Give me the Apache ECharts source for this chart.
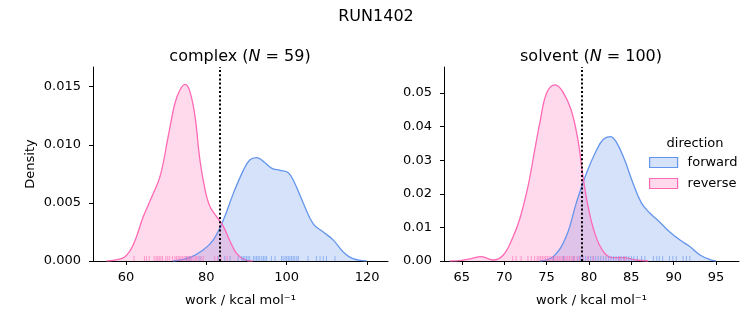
<!DOCTYPE html>
<html><head><meta charset="utf-8">
<script src="https://cdn.jsdelivr.net/npm/echarts@6/dist/echarts.min.js"></script>
<style>html,body{margin:0;padding:0;background:#fff}#c{width:753px;height:325px}</style>
</head><body><div id="c"></div>
<script>
// ---------- data ----------
const suptitle = 'RUN1402';
const complexN = 59;
const solventN = 100;
const directions = ['forward', 'reverse'];

const complexForwardKde = [[71.7,0],[75.9,0.0003],[79.2,0.00095],[81.7,0.0018],[84.2,0.0035],[86.7,0.0058],[89.2,0.0078],[90.8,0.0087],[92.5,0.0089],[94.1,0.0086],[96.2,0.0080],[98.3,0.0078],[100.4,0.0076],[102.0,0.0067],[104.1,0.0050],[106.6,0.0032],[109.1,0.0025],[111.6,0.0018],[114.0,0.0008],[116.5,0.0002],[119.9,0]];
const complexReverseKde = [[55.2,0],[57.5,0.0001],[59.75,0.00037],[61.8,0.00138],[64.3,0.0038],[66.4,0.0055],[68.5,0.0073],[70.5,0.0107],[72.2,0.0136],[73.4,0.0147],[74.7,0.0152],[75.9,0.0146],[77.2,0.0124],[78.4,0.0087],[79.7,0.0061],[80.9,0.0047],[82.6,0.0038],[84.2,0.0030],[85.9,0.0017],[87.5,0.00066],[89.6,0.0001],[91.5,0]];
const solventForwardKde = [[74.2,0],[75.8,0.0013],[77.3,0.0072],[78.5,0.0172],[79.7,0.0261],[80.9,0.0330],[81.7,0.0362],[82.5,0.0370],[83.2,0.0355],[84.2,0.0301],[85.2,0.0231],[86.2,0.0172],[87.2,0.0142],[88.3,0.0117],[89.5,0.0087],[90.7,0.0063],[91.9,0.0043],[93.1,0.0018],[94.2,0.0005],[95.0,0]];
const solventReverseKde = [[63.6,0],[65.0,0.0002],[65.9,0.0006],[67.3,0.0013],[68.7,0.0003],[69.9,0.0018],[70.9,0.0063],[71.8,0.0122],[72.8,0.0221],[73.6,0.0330],[74.2,0.0410],[75.0,0.0499],[76.0,0.0524],[76.9,0.0504],[77.9,0.0449],[78.7,0.0360],[79.3,0.0251],[79.9,0.0162],[80.7,0.0082],[81.7,0.0028],[82.8,0.0010],[84.0,0.0010],[85.6,0.0003],[87.0,0]];

const complexForwardRug = [75.1,75.9,78.4,83.0,84.6,85.9,87.9,88.8,89.2,89.6,90.0,90.4,90.8,91.7,92.1,92.5,92.9,93.3,93.8,94.2,94.6,95.0,96.2,97.1,98.7,99.1,99.6,100.0,100.4,100.8,101.2,101.6,102.0,102.5,102.9,105.3,107.4,108.3,109.1,109.9,112.0];
const complexReverseRug = [62.0,64.6,65.1,65.8,67.0,67.5,67.9,68.3,68.7,69.1,69.9,70.4,70.9,71.6,72.2,72.6,73.0,73.4,73.7,74.1,74.5,74.9,75.3,75.6,75.9,76.3,76.7,77.2,77.6,78.0,78.7,79.2,82.1,82.8,83.6,85.2];
const solventForwardRug = [75.8,77.0,78.2,78.7,79.0,79.3,79.6,79.9,80.2,80.5,80.8,81.1,81.4,81.7,82.0,82.3,82.6,82.9,83.2,83.5,83.8,84.1,84.4,84.7,85.0,85.3,85.7,86.2,86.6,87.6,88.0,88.3,88.7,89.5,89.9,90.3,91.1,91.5,91.9];
const solventReverseRug = [71.0,71.4,72.0,72.8,73.2,73.6,73.9,74.1,74.3,74.5,74.7,74.9,75.1,75.3,75.5,75.7,75.9,76.1,76.3,76.5,76.7,76.9,77.1,77.3,77.5,77.7,77.9,78.1,78.3,78.6,78.9,79.3,79.9,80.5,83.6,84.2];

const complexCutoff = 83.4;
const solventCutoff = 79.15;

const complexXTicks = [60, 80, 100, 120];
const complexYTicks = [0, 0.005, 0.010, 0.015];
const solventXTicks = [65, 70, 75, 80, 85, 90, 95];
const solventYTicks = [0, 0.01, 0.02, 0.03, 0.04, 0.05];

// ---------- styling ----------
const FONT = 'DejaVu Sans';
const BLUE = '#6495ED', PINK = '#FF69B4';
const BLUE_FILL = 'rgba(100,149,237,0.27)', PINK_FILL = 'rgba(255,105,180,0.25)';
const TXT = '#000';

function xAxisCfg(gridIndex, min, max, ticks) {
  return {
    type: 'value', gridIndex, min, max,
    name: 'work / kcal mol⁻¹', nameLocation: 'middle', nameGap: 33,
    nameTextStyle: {fontFamily: FONT, fontSize: 13, color: TXT},
    axisLine: {show: true, onZero: false, lineStyle: {color: '#000', width: 1}},
    axisTick: {show: true, inside: false, length: 4, lineStyle: {color: '#000', width: 1}, customValues: ticks},
    axisLabel: {fontFamily: FONT, fontSize: 13, color: TXT, margin: 10, customValues: ticks, formatter: v => String(v)},
    splitLine: {show: false}
  };
}
function yAxisCfg(gridIndex, max, ticks, digits, name) {
  return {
    type: 'value', gridIndex, min: 0, max,
    name: name, nameLocation: 'middle', nameGap: 56,
    nameTextStyle: {fontFamily: FONT, fontSize: 13, color: TXT},
    axisLine: {show: true, onZero: false, lineStyle: {color: '#000', width: 1}},
    axisTick: {show: true, inside: false, length: 4, lineStyle: {color: '#000', width: 1}, customValues: ticks},
    axisLabel: {fontFamily: FONT, fontSize: 13, color: TXT, margin: 12, customValues: ticks, formatter: v => v.toFixed(digits)},
    splitLine: {show: false}
  };
}
function kde(name, data, idx, line, fill) {
  return {
    name, type: 'line', xAxisIndex: idx, yAxisIndex: idx, data,
    smooth: 0.4, showSymbol: false, symbol: 'none',
    lineStyle: {color: line, width: 1.3}, itemStyle: {color: line},
    areaStyle: {color: fill, opacity: 1}, z: 2, silent: true
  };
}
function rug(name, vals, idx, color) {
  return {
    name, type: 'scatter', xAxisIndex: idx, yAxisIndex: idx,
    data: vals.map(v => [v, 0]), symbol: 'rect', symbolSize: [1, 5], symbolOffset: [0, -2.5],
    itemStyle: {color, opacity: 0.6}, z: 3, silent: true, clip: false
  };
}
function cutoff(idx, x) {
  return {
    name: 'cutoff' + idx, type: 'line', xAxisIndex: idx, yAxisIndex: idx, data: [],
    markLine: {silent: true, symbol: 'none', label: {show: false},
      lineStyle: {color: '#000', type: [2, 2.2], width: 2}, data: [{xAxis: x}]},
    z: 5
  };
}

const chart = echarts.init(document.getElementById('c'), null, {renderer: 'canvas'});
chart.setOption({
  animation: false,
  backgroundColor: '#fff',
  textStyle: {fontFamily: FONT},
  title: [
    {text: suptitle, left: 371, top: 4, textAlign: 'center', textStyle: {fontFamily: FONT, fontSize: 16, fontWeight: 'normal', color: TXT}},
    {text: 'complex ({i|N} = ' + complexN + ')', left: 235, top: 44, textAlign: 'center',
     textStyle: {fontFamily: FONT, fontSize: 16, fontWeight: 'normal', color: TXT,
       rich: {i: {fontFamily: FONT, fontSize: 16, fontStyle: 'italic', color: TXT}}}},
    {text: 'solvent ({i|N} = ' + solventN + ')', left: 586, top: 44, textAlign: 'center',
     textStyle: {fontFamily: FONT, fontSize: 16, fontWeight: 'normal', color: TXT,
       rich: {i: {fontFamily: FONT, fontSize: 16, fontStyle: 'italic', color: TXT}}}},
    {text: 'direction', left: 690, top: 132, textAlign: 'center', textStyle: {fontFamily: FONT, fontSize: 13, fontWeight: 'normal', color: TXT}}
  ],
  legend: {
    orient: 'vertical', left: 644, top: 151, itemWidth: 28, itemHeight: 10, itemGap: 8,
    icon: 'rect', selectedMode: false,
    textStyle: {fontFamily: FONT, fontSize: 13, color: TXT, padding: [0, 0, 0, 5]},
    data: [
      {name: 'forward', itemStyle: {color: BLUE_FILL, borderColor: BLUE, borderWidth: 1.2}},
      {name: 'reverse', itemStyle: {color: PINK_FILL, borderColor: PINK, borderWidth: 1.2}}
    ]
  },
  grid: [
    {left: 93, top: 67, width: 295, height: 194, containLabel: false},
    {left: 444, top: 67, width: 295, height: 194, containLabel: false}
  ],
  xAxis: [xAxisCfg(0, 51.8, 125.2, complexXTicks), xAxisCfg(1, 62.9, 97.7, solventXTicks)],
  yAxis: [yAxisCfg(0, 0.0167, complexYTicks, 3, 'Density'), yAxisCfg(1, 0.0577, solventYTicks, 2, '')],
  series: [
    kde('forward', complexForwardKde, 0, BLUE, BLUE_FILL),
    kde('reverse', complexReverseKde, 0, PINK, PINK_FILL),
    kde('forward', solventForwardKde, 1, BLUE, BLUE_FILL),
    kde('reverse', solventReverseKde, 1, PINK, PINK_FILL),
    rug('forward rug', complexForwardRug, 0, BLUE),
    rug('reverse rug', complexReverseRug, 0, PINK),
    rug('forward rug s', solventForwardRug, 1, BLUE),
    rug('reverse rug s', solventReverseRug, 1, PINK),
    cutoff(0, complexCutoff),
    cutoff(1, solventCutoff)
  ]
});
</script>
</body></html>
